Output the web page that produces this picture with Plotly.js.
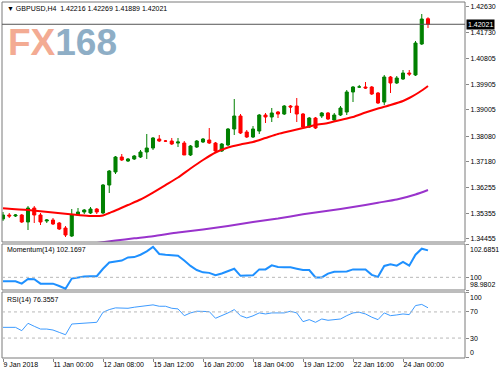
<!DOCTYPE html>
<html><head><meta charset="utf-8">
<script src="https://cdn.plot.ly/plotly-3.0.1.min.js"></script>
<style>html,body{margin:0;padding:0;background:#fff}#chart{width:500px;height:375px}</style>
</head><body><div id="chart"></div>
<script>
// ---- Data (GBPUSD H4) ----
const headerText = "GBPUSD,H4";
const lastOHLC = [1.42216, 1.42269, 1.41889, 1.42021];
const opens  = [1.35160,1.35300,1.35265,1.35300,1.35054,1.35547,1.35300,1.35089,1.35124,1.35019,
                1.34842,1.34560,1.35300,1.35406,1.35371,1.35512,1.35371,1.36357,1.36816,1.37344,
                1.37203,1.37274,1.37344,1.37520,1.37661,1.37978,1.37908,1.37908,1.37837,1.37837,
                1.37415,1.37696,1.37873,1.37943,1.37837,1.37556,1.37767,1.38331,1.38789,1.38225,
                1.38049,1.38260,1.38824,1.38754,1.38930,1.38859,1.39141,1.39141,1.38859,1.38401,
                1.38718,1.38789,1.38895,1.38648,1.38824,1.38930,1.39635,1.39811,1.39811,1.39811,
                1.39599,1.39282,1.40163,1.39952,1.40093,1.40304,1.40234,1.41326,1.42216];
const highs  = [1.35406,1.35371,1.35335,1.35335,1.35617,1.35617,1.35371,1.35160,1.35195,1.35054,
                1.34912,1.35512,1.35547,1.35512,1.35582,1.35547,1.36393,1.36886,1.37379,1.37450,
                1.37309,1.37414,1.37591,1.38155,1.38049,1.38119,1.37943,1.38014,1.38014,1.37908,
                1.37767,1.37943,1.38014,1.38366,1.37873,1.37837,1.38366,1.39388,1.38859,1.38296,
                1.38436,1.38859,1.38895,1.39071,1.38965,1.39176,1.39176,1.39423,1.38895,1.38754,
                1.38754,1.38930,1.38930,1.38895,1.39141,1.39705,1.39846,1.39882,1.39987,1.39846,
                1.39635,1.40234,1.40198,1.40198,1.40410,1.40410,1.41432,1.42383,1.42269];
const lows   = [1.35089,1.35195,1.35230,1.35019,1.34772,1.35019,1.34948,1.35019,1.34948,1.34772,
                1.34525,1.34525,1.35265,1.35335,1.35335,1.35335,1.35335,1.36076,1.36745,1.37203,
                1.37168,1.37239,1.37309,1.37274,1.37591,1.37873,1.37873,1.37767,1.37696,1.37415,
                1.37379,1.37661,1.37837,1.37802,1.37520,1.37520,1.37732,1.38119,1.38155,1.38014,
                1.38014,1.38155,1.38542,1.38577,1.38718,1.38824,1.38895,1.38577,1.38366,1.38366,
                1.38331,1.38718,1.38648,1.38613,1.38789,1.38824,1.39282,1.39776,1.39741,1.39529,
                1.39212,1.39176,1.39599,1.39917,1.40058,1.40198,1.40198,1.41291,1.41889];
const closes = [1.35300,1.35265,1.35300,1.35054,1.35547,1.35300,1.35054,1.35124,1.34984,1.34807,
                1.34595,1.35300,1.35406,1.35477,1.35512,1.35406,1.36357,1.36851,1.37344,1.37239,
                1.37274,1.37379,1.37520,1.37661,1.38014,1.37908,1.37905,1.37802,1.37873,1.37415,
                1.37732,1.37908,1.37978,1.37837,1.37556,1.37802,1.38331,1.38789,1.38190,1.38049,
                1.38331,1.38824,1.38754,1.38895,1.38859,1.39141,1.39106,1.38859,1.38401,1.38718,
                1.38366,1.38895,1.38683,1.38824,1.39071,1.39635,1.39811,1.39813,1.39776,1.39564,
                1.39247,1.40163,1.39952,1.40128,1.40304,1.40269,1.41361,1.42207,1.42021];

// moving averages read at selected bars
const maRedBar  = [0,4,8,12,14,16,17,18,20,22,24,26,28,30,32,34,36,38,40,42,44,46,48,50,52,54,56,58,60,62,64,65,66,67,68];
const maRedVal  = [1.35540,1.35476,1.35388,1.35300,1.35265,1.35283,1.35371,1.35459,1.35653,1.35846,
                   1.36093,1.36357,1.36622,1.36939,1.37238,1.37503,1.37679,1.37785,1.37873,1.38014,
                   1.38155,1.38260,1.38366,1.38472,1.38542,1.38648,1.38754,1.38912,1.39053,1.39177,
                   1.39317,1.39423,1.39547,1.39687,1.39846];
const maPurpleBar = [15,18,21,24,28,32,36,40,44,48,52,56,60,63,66,68];
const maPurpleVal = [1.34313,1.34402,1.34479,1.34553,1.34683,1.34789,1.34912,1.35053,1.35177,1.35325,
                     1.35448,1.35582,1.35733,1.35846,1.36023,1.36181];

const momentum = [99.68,99.68,99.68,99.49,99.87,99.85,99.49,99.49,99.49,99.30,
                  99.08,99.90,99.99,100.07,100.08,100.09,100.69,101.19,101.27,101.35,
                  101.60,101.63,101.82,102.09,102.45,101.88,101.82,101.76,101.74,101.35,
                  100.92,100.59,100.40,100.36,100.17,100.31,100.50,100.69,100.12,100.17,
                  100.17,100.64,100.64,100.97,100.83,100.82,100.81,100.70,100.59,100.59,
                  99.99,99.99,100.30,100.45,100.46,100.48,100.64,100.64,100.64,100.20,
                  100.04,100.92,101.06,100.94,101.24,100.94,101.82,102.31,102.17];
const rsi = [46.4,46.4,46.4,41.3,52.6,48.0,43.8,43.8,42.3,38.7,
             35.1,51.5,52.0,53.1,53.6,54.1,69.5,73.6,76.2,75.6,
             75.6,77.2,78.2,79.7,80.8,78.7,78.7,75.6,74.6,64.3,
             68.5,71.1,70.8,70.5,60.3,64.3,68.5,73.6,64.3,60.8,
             64.0,68.5,66.9,68.5,68.5,68.5,71.1,68.5,55.1,58.2,
             54.1,59.2,57.2,58.2,59.2,64.3,68.5,69.5,66.9,62.0,
             58.2,68.5,64.3,65.4,66.9,65.9,79.7,81.5,76.36];
const momLabel = "Momentum(14) 102.1697";
const rsiLabel = "RSI(14) 76.3557";

const priceTicks = ["1.42630","1.41730","1.40805","1.39905","1.39005","1.38080","1.37180","1.36255","1.35355","1.34455"];
const momTicks = ["102.6851","100","98.9802"];
const rsiTicks = ["100","70","30","0"];
const timeTickBar  = [0,8,16,24,32,40,48,56,64];
const timeTickText = ["9 Jan 2018","11 Jan 00:00","12 Jan 08:00","15 Jan 12:00","16 Jan 20:00",
                      "18 Jan 04:00","19 Jan 12:00","22 Jan 16:00","24 Jan 00:00"];

// ---- Build ----
const bars = opens.map((_, i) => i);
const F = "Liberation Sans, Arial, sans-serif";
const FS = 7;
const px2py = Y => (358 - Y) / 356;   // pixel row -> paper y
const px2px = X => (X - 2) / 463;     // pixel col -> paper x

const traces = [
  {type:'scatter', mode:'lines', x:maRedBar, y:maRedVal, xaxis:'x', yaxis:'y',
   line:{color:'#ff0000', width:2, shape:'spline', smoothing:0.6}, hoverinfo:'skip'},
  {type:'scatter', mode:'lines', x:maPurpleBar, y:maPurpleVal, xaxis:'x', yaxis:'y',
   line:{color:'#9933cc', width:2, shape:'spline', smoothing:0.6}, hoverinfo:'skip'},
  {type:'candlestick', x:bars, open:opens, high:highs, low:lows, close:closes, xaxis:'x', yaxis:'y',
   increasing:{line:{color:'#008000', width:1}, fillcolor:'#008000'},
   decreasing:{line:{color:'#ff0000', width:1}, fillcolor:'#ff0000'},
   whiskerwidth:0, hoverinfo:'skip'},
  {type:'scatter', mode:'lines', x:bars, y:momentum, xaxis:'x', yaxis:'y2',
   line:{color:'#1e90ff', width:2}, hoverinfo:'skip'},
  {type:'scatter', mode:'lines', x:bars, y:rsi, xaxis:'x', yaxis:'y3',
   line:{color:'#3d9bff', width:1}, hoverinfo:'skip'}
];

const border = '#7a7a7a';
const shapes = [];
['y domain','y2 domain','y3 domain'].forEach(r => shapes.push(
  {type:'rect', xref:'paper', yref:r, x0:0, x1:1, y0:0, y1:1, line:{color:border, width:1}, layer:'above'}));
shapes.push({type:'line', xref:'paper', yref:'y', x0:0, x1:1, y0:lastOHLC[3], y1:lastOHLC[3],
             line:{color:'#555', width:1}});
shapes.push({type:'line', xref:'paper', yref:'y2', x0:0, x1:1, y0:100, y1:100,
             line:{color:'#b8b8b8', width:1, dash:'dot'}});
[70,30].forEach(v => shapes.push({type:'line', xref:'paper', yref:'y3', x0:0, x1:1, y0:v, y1:v,
             line:{color:'#b8b8b8', width:1, dash:'dot'}}));

const annotations = [
  {xref:'paper', yref:'paper', x:px2px(5), y:px2py(8), xanchor:'left', yanchor:'middle', showarrow:false,
   text:'\u25BC\u00a0' + headerText + '\u00a0\u00a0' + lastOHLC.map(v=>v.toFixed(5)).join('\u00a0'),
   font:{family:F, size:FS, color:'#000'}},
  {xref:'paper', yref:'paper', x:px2px(6), y:px2py(42), xanchor:'left', yanchor:'middle', showarrow:false,
   text:'<span style="color:#f3ab93">FX</span><span style="color:#8eaec6">168</span>',
   font:{family:'Liberation Sans, Arial, sans-serif', size:37, weight:700}},
  {xref:'paper', yref:'paper', x:px2px(5), y:px2py(250), xanchor:'left', yanchor:'middle', showarrow:false,
   text:momLabel, font:{family:F, size:FS, color:'#000'}},
  {xref:'paper', yref:'paper', x:px2px(5), y:px2py(300), xanchor:'left', yanchor:'middle', showarrow:false,
   text:rsiLabel, font:{family:F, size:FS, color:'#000'}},
  {xref:'paper', yref:'y', x:1, y:lastOHLC[3], xanchor:'left', yanchor:'middle', xshift:1, showarrow:false,
   text:lastOHLC[3].toFixed(5), bgcolor:'#000', borderpad:1, font:{family:F, size:FS, color:'#fff'}}
];
momTicks.forEach((t, k) => annotations.push({xref:'paper', yref:'y2', x:1, y:parseFloat(t), xshift:3,
   xanchor:'left', yanchor: k===0 ? 'top' : (k===momTicks.length-1 ? 'bottom' : 'middle'),
   showarrow:false, text:t, font:{family:F, size:FS, color:'#000'}}));
rsiTicks.forEach((t, k) => annotations.push({xref:'paper', yref:'y3', x:1, y:parseFloat(t), xshift:3,
   xanchor:'left', yanchor: k===0 ? 'top' : (k===rsiTicks.length-1 ? 'bottom' : 'middle'),
   showarrow:false, text:t, font:{family:F, size:FS, color:'#000'}}));

const axCommon = {showgrid:false, zeroline:false, showline:false, fixedrange:true,
                  ticks:'outside', ticklen:3, tickcolor:'#888', tickfont:{family:F, size:FS, color:'#000'}};

const layout = {
  width:500, height:375, margin:{l:2, r:35, t:2, b:17},
  paper_bgcolor:'#fff', plot_bgcolor:'#fff', showlegend:false,
  font:{family:F, size:FS, color:'#000'},
  xaxis:Object.assign({}, axCommon, {range:[-0.16, 73.92], anchor:'y3', tickmode:'array',
    tickvals:timeTickBar, ticktext:timeTickText, ticklabelposition:'outside right',
    rangeslider:{visible:false}}),
  yaxis:Object.assign({}, axCommon, {domain:[0.32584, 1], range:[1.34349, 1.42806], side:'right',
    anchor:'x', tickmode:'array', tickvals:priceTicks.map(parseFloat), ticktext:priceTicks}),
  yaxis2:Object.assign({}, axCommon, {domain:[0.19101, 0.32022], range:[98.9802, 102.6851], side:'right',
    anchor:'x', tickmode:'array', tickvals:momTicks.map(parseFloat), showticklabels:false}),
  yaxis3:Object.assign({}, axCommon, {domain:[0, 0.18539], range:[-0.5, 100.5], side:'right',
    anchor:'x', tickmode:'array', tickvals:rsiTicks.map(parseFloat), showticklabels:false}),
  shapes:shapes, annotations:annotations
};

Plotly.newPlot('chart', traces, layout, {staticPlot:true, displayModeBar:false});
</script>
</body></html>
